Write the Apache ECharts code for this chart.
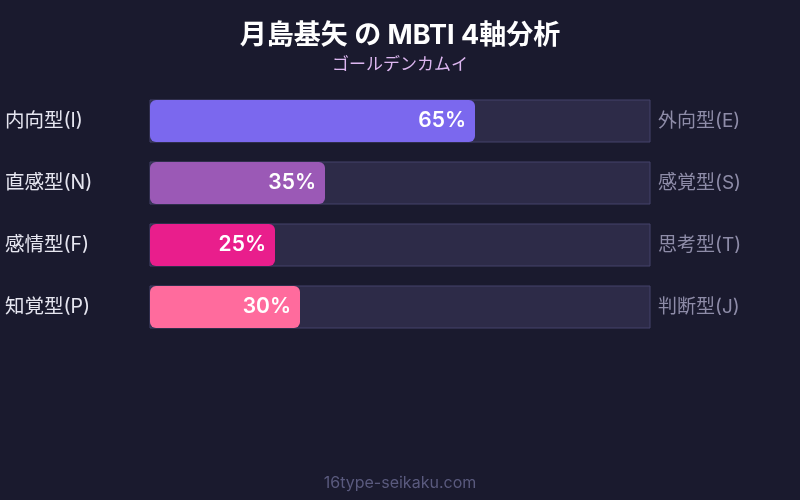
<!DOCTYPE html>
<html><head><meta charset="utf-8">
<script src="https://cdn.jsdelivr.net/npm/echarts@6/dist/echarts.min.js"></script>
<style>html,body{margin:0;padding:0;background:#1a1a2e;}#c{width:800px;height:500px;}</style>
</head><body><div id="c"></div>
<script>
const leftLabels = ['内向型(I)', '直感型(N)', '感情型(F)', '知覚型(P)'];
const rightLabels = ['外向型(E)', '感覚型(S)', '思考型(T)', '判断型(J)'];
const values = [65, 35, 25, 30];
const colors = ['#7b68ee', '#9b59b6', '#e91e8c', '#ff6b9d'];
const FONT = 'Inter, "Noto Sans CJK JP", sans-serif';
const chart = echarts.init(document.getElementById('c'));
chart.setOption({
  backgroundColor: '#1a1a2e',
  title: {
    text: '月島基矢 の MBTI 4軸分析',
    subtext: 'ゴールデンカムイ',
    left: 'center', top: 17, itemGap: 7,
    textStyle: {color: '#ffffff', fontSize: 27, fontWeight: 'bold', fontFamily: FONT},
    subtextStyle: {color: '#dcb6f0', fontSize: 17, fontFamily: FONT}
  },
  graphic: [{
    type: 'text', left: 'center', top: 475,
    style: {text: '16type-seikaku.com', fill: '#5a5a7e', fontSize: 16, fontFamily: FONT}
  }],
  grid: {left: 150, right: 150, top: 90, height: 248},
  xAxis: {type: 'value', min: 0, max: 100, show: false},
  yAxis: [{
    type: 'category', data: leftLabels, inverse: true,
    axisLine: {show: false}, axisTick: {show: false},
    axisLabel: {color: '#e6e6f0', fontSize: 19.5, fontFamily: FONT, align: 'left', margin: 145}
  }, {
    type: 'category', data: rightLabels, inverse: true, position: 'right',
    axisLine: {show: false}, axisTick: {show: false},
    axisLabel: {color: '#8e8ca8', fontSize: 19, fontFamily: FONT, margin: 8}
  }],
  series: [{
    type: 'bar', data: values.map((v, i) => ({value: v, itemStyle: {color: colors[i]}})),
    barWidth: 42,
    itemStyle: {borderRadius: 6},
    showBackground: true,
    backgroundStyle: {color: '#2d2b48', borderColor: '#45436a', borderWidth: 1},
    label: {show: true, position: 'insideRight', formatter: '{c}%', color: '#ffffff',
      fontSize: 21, fontWeight: 600, fontFamily: FONT, distance: 9},
    silent: true
  }]
});
</script></body></html>
